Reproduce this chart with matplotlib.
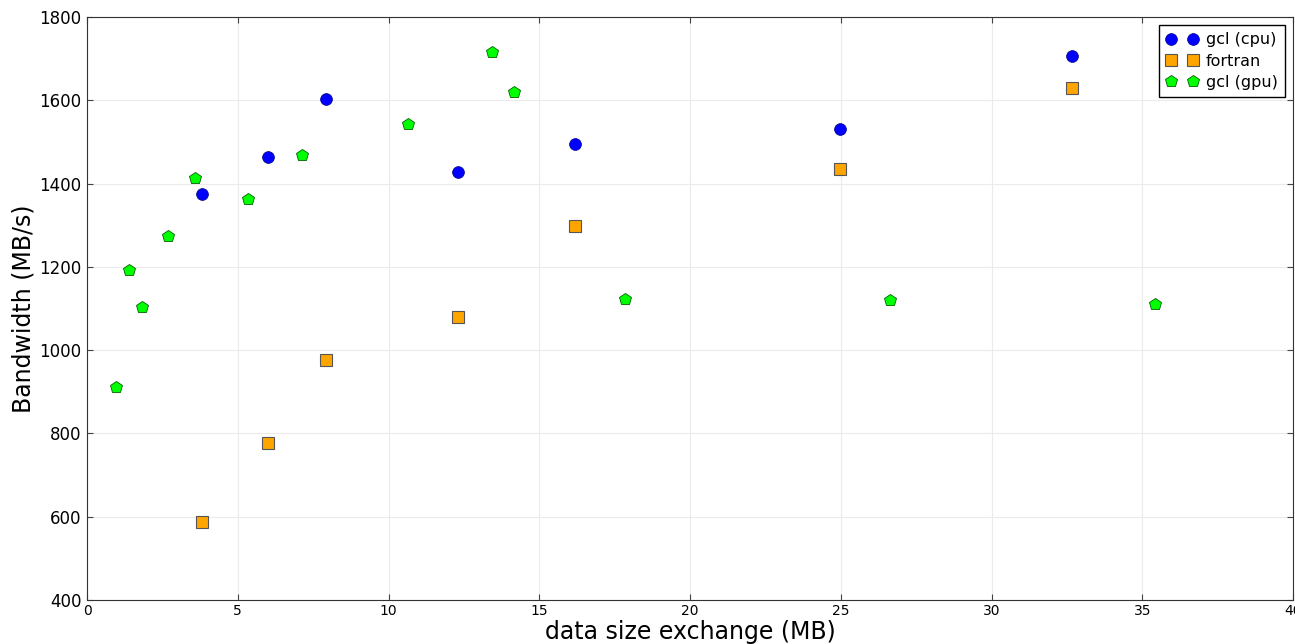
import matplotlib.pyplot as plt

# data
cpu_x = [3.81, 6.0, 7.93, 12.3, 16.19, 24.97, 32.67]
cpu_y = [1375, 1464, 1603, 1428, 1495, 1531, 1706]

fortran_x = [3.81, 6.0, 7.93, 12.3, 16.19, 24.97, 32.67]
fortran_y = [587, 777, 976, 1080, 1298, 1435, 1630]

gpu_x = [0.96, 1.39, 1.82, 2.69, 3.58, 5.34, 7.13, 10.65, 13.43, 14.16, 17.84, 26.63, 35.42]
gpu_y = [912, 1193, 1104, 1274, 1413, 1363, 1469, 1543, 1716, 1620, 1123, 1120, 1111]

fig = plt.figure(figsize=(12.95, 6.44), dpi=100)
ax = fig.add_axes([0.0672, 0.0683, 0.9313, 0.9053])

ax.plot(cpu_x, cpu_y, "o", color="blue", markeredgecolor="#000080",
        markeredgewidth=0.5, markersize=8.5, label="gcl (cpu)")
ax.plot(fortran_x, fortran_y, "s", color="orange", markeredgecolor="#555555",
        markeredgewidth=0.8, markersize=8.5, label="fortran")
ax.plot(gpu_x, gpu_y, "p", color="#00ff00", markeredgecolor="#006000",
        markeredgewidth=0.6, markersize=9, label="gcl (gpu)")

ax.set_xlim(0, 40)
ax.set_ylim(400, 1800)
ax.set_xticks(range(0, 41, 5))
ax.set_yticks(range(400, 1801, 200))
ax.grid(True, color="#ebebeb", linewidth=0.8)
ax.set_axisbelow(True)
ax.tick_params(direction="in", top=True, right=True, length=4, color="#444444")
ax.tick_params(axis="x", labelsize=10, pad=3)
ax.tick_params(axis="y", labelsize=12, pad=4)
for s in ax.spines.values():
    s.set_color("#333333")

ax.set_xlabel("data size exchange (MB)", fontsize=17, labelpad=1)
ax.set_ylabel("Bandwidth (MB/s)", fontsize=17, labelpad=3)

leg = ax.legend(loc="upper right", numpoints=2, fontsize=11.5, fancybox=False,
                edgecolor="black", framealpha=1, borderaxespad=0.5,
                handletextpad=0.5, borderpad=0.45, labelspacing=0.4)
leg.get_frame().set_linewidth(1.0)

plt.savefig("out.png", dpi=100)
